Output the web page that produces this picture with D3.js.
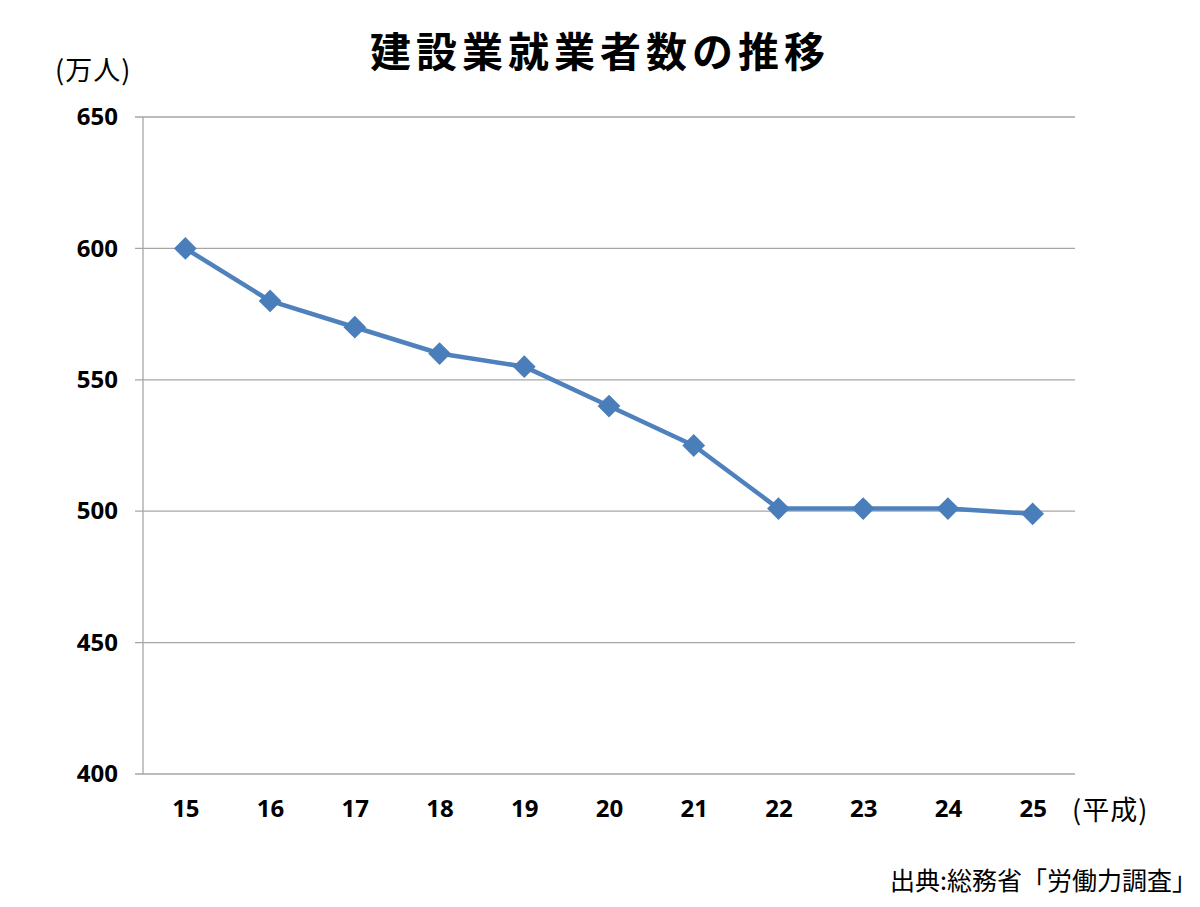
<!DOCTYPE html>
<html>
<head>
<meta charset="utf-8">
<script src="https://cdn.jsdelivr.net/npm/d3@7"></script>
<style>
  body { margin: 0; background: #fff; }
</style>
</head>
<body>
<div id="my_dataviz"></div>
<script>
// data
var years = ["15", "16", "17", "18", "19", "20", "21", "22", "23", "24", "25"];
var workers = [600, 580, 570, 560, 555, 540, 525, 501, 501, 501, 499];
var yTicks = [400, 450, 500, 550, 600, 650];

var W = 1200, H = 907;
var margin = { top: 117, right: 125, bottom: 133, left: 143 },
  width = W - margin.left - margin.right,
  height = H - margin.top - margin.bottom;

var numFont = "'Open Sans', sans-serif";
var jpFont = "'Noto Sans CJK JP', sans-serif";

var root = d3.select("#my_dataviz")
  .append("svg")
  .attr("width", W)
  .attr("height", H);

var svg = root.append("g")
  .attr("transform", "translate(" + margin.left + "," + margin.top + ")");

// scales
var x = d3.scalePoint()
  .domain(years)
  .range([0, width])
  .padding(0.5);

var y = d3.scaleLinear()
  .domain([400, 650])
  .range([height, 0]);

// grid lines
svg.append("g")
  .selectAll("line")
  .data(yTicks)
  .enter()
  .append("line")
  .attr("x1", -8)
  .attr("x2", width)
  .attr("y1", function (d) { return y(d); })
  .attr("y2", function (d) { return y(d); })
  .attr("stroke", "#a6a6a6")
  .attr("stroke-width", 1.3);

// y axis line
svg.append("line")
  .attr("x1", 0).attr("x2", 0)
  .attr("y1", 0).attr("y2", height)
  .attr("stroke", "#a6a6a6")
  .attr("stroke-width", 1.3);

// y labels
var yAxis = svg.append("g")
  .call(d3.axisLeft(y).tickValues(yTicks).tickSize(0).tickPadding(25));
yAxis.select(".domain").remove();
yAxis.selectAll("text")
  .attr("font-family", numFont)
  .attr("font-weight", "bold")
  .attr("font-size", 24)
  .attr("fill", "#000");

// x labels
var xAxis = svg.append("g")
  .attr("transform", "translate(0," + height + ")")
  .call(d3.axisBottom(x).tickSize(0).tickPadding(26));
xAxis.select(".domain").remove();
xAxis.selectAll("text")
  .attr("font-family", numFont)
  .attr("font-weight", "bold")
  .attr("font-size", 24)
  .attr("fill", "#000");

// line
var line = d3.line()
  .x(function (d, i) { return x(years[i]); })
  .y(function (d) { return y(d); });

svg.append("path")
  .datum(workers)
  .attr("d", line)
  .attr("fill", "none")
  .attr("stroke", "#4f81bd")
  .attr("stroke-width", 4.5)
  .attr("stroke-linejoin", "round");

// diamond markers
svg.selectAll(".pt")
  .data(workers)
  .enter()
  .append("path")
  .attr("class", "pt")
  .attr("d", d3.symbol().type(d3.symbolDiamond2).size(330))
  .attr("transform", function (d, i) { return "translate(" + x(years[i]) + "," + y(d) + ")"; })
  .attr("fill", "#4a7ebb");

// texts
root.append("text")
  .attr("x", 600)
  .attr("y", 67)
  .attr("text-anchor", "middle")
  .attr("font-family", jpFont)
  .attr("font-weight", "bold")
  .attr("font-size", 41)
  .attr("letter-spacing", 5)
  .text("建設業就業者数の推移");

root.append("text")
  .attr("x", 55)
  .attr("y", 80)
  .attr("font-family", jpFont)
  .attr("font-size", 27)
  .attr("letter-spacing", 1)
  .text("(万人)");

root.append("text")
  .attr("x", 1072)
  .attr("y", 820)
  .attr("font-family", jpFont)
  .attr("font-size", 27)
  .attr("letter-spacing", 1)
  .text("(平成)");

root.append("text")
  .attr("x", 1197)
  .attr("y", 890)
  .attr("text-anchor", "end")
  .attr("font-family", jpFont)
  .attr("font-size", 25)
  .text("出典:総務省「労働力調査」");
</script>
</body>
</html>
